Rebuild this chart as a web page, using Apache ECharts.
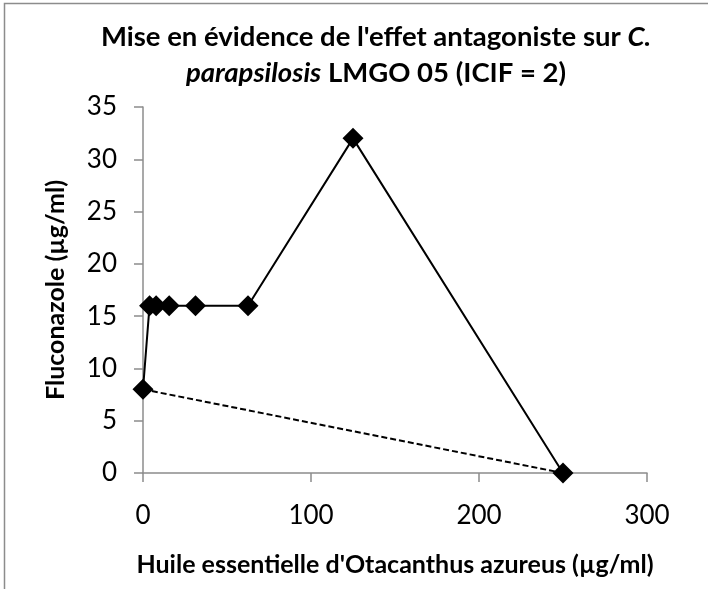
<!DOCTYPE html>
<html>
<head>
<meta charset="utf-8">
<script src="https://cdn.jsdelivr.net/npm/echarts@6/dist/echarts.min.js"></script>
<style>
  html, body { margin: 0; padding: 0; background: #fff; }
  #chart { width: 708px; height: 589px; }
</style>
</head>
<body>
<div id="chart"></div>
<script>
// Huile essentielle (µg/ml) vs fluconazole (µg/ml) combinations
const oilValues = [0, 3.9, 7.8, 15.6, 31.25, 62.5, 125, 250];
const fluconazoleValues = [8, 16, 16, 16, 16, 16, 32, 0];

// Additivity reference line between the two single-agent MICs
const refOil = [0, 250];
const refFluconazole = [8, 0];

const xTicks = [0, 100, 200, 300];
const yTicks = [0, 5, 10, 15, 20, 25, 30, 35];

const FONT = 'Lato, "Open Sans", sans-serif';

const chart = echarts.init(document.getElementById('chart'));
chart.setOption({
  animation: false,
  backgroundColor: '#ffffff',
  graphic: [{
    type: 'rect',
    shape: { x: 4.5, y: 3.5, width: 800, height: 700 },
    style: { fill: 'none', stroke: '#8c8c8c', lineWidth: 1.5 },
    z: -1
  }],
  title: {
    text: "{b|Mise en évidence de l'effet antagoniste sur }{i|C.}\n{i|parapsilosis}{b| LMGO 05 (ICIF = 2)}",
    left: 371,
    top: 14,
    textAlign: 'center',
    textStyle: {
      rich: {
        b: { fontFamily: FONT, fontWeight: 'bold', fontSize: 27.5, color: '#000', lineHeight: 36 },
        i: { fontFamily: FONT, fontWeight: 'bold', fontStyle: 'italic', fontSize: 27.5, color: '#000', lineHeight: 36 }
      }
    }
  },
  grid: { left: 143, top: 107, right: 61, bottom: 116 },
  xAxis: {
    type: 'value',
    min: xTicks[0],
    max: xTicks[xTicks.length - 1],
    interval: 100,
    name: "Huile essentielle d'Otacanthus azureus (µg/ml)",
    nameLocation: 'middle',
    nameGap: 79,
    nameMoveOverlap: false,
    nameTextStyle: { fontFamily: FONT, fontWeight: 'bold', fontSize: 25, color: '#000' },
    axisLine: { show: true, lineStyle: { color: '#8c8c8c', width: 1.5 } },
    axisTick: { show: true, inside: false, length: 9, lineStyle: { color: '#8c8c8c', width: 1.5 } },
    axisLabel: { fontFamily: FONT, fontSize: 26, color: '#000', margin: 30 },
    splitLine: { show: false }
  },
  yAxis: {
    type: 'value',
    min: yTicks[0],
    max: yTicks[yTicks.length - 1],
    interval: 5,
    name: 'Fluconazole (µg/ml)',
    nameLocation: 'middle',
    nameGap: 75,
    nameMoveOverlap: false,
    nameTextStyle: { fontFamily: FONT, fontWeight: 'bold', fontSize: 25, color: '#000' },
    axisLine: { show: true, lineStyle: { color: '#8c8c8c', width: 1.5 } },
    axisTick: { show: true, inside: false, length: 9, lineStyle: { color: '#8c8c8c', width: 1.5 } },
    axisLabel: { fontFamily: FONT, fontSize: 26, color: '#000', margin: 26 },
    splitLine: { show: false }
  },
  series: [
    {
      type: 'line',
      data: refOil.map((x, i) => [x, refFluconazole[i]]),
      symbol: 'none',
      lineStyle: { color: '#000', width: 2, type: [6, 3] },
      z: 2
    },
    {
      type: 'line',
      data: oilValues.map((x, i) => [x, fluconazoleValues[i]]),
      symbol: 'diamond',
      symbolSize: 21,
      showAllSymbol: true,
      itemStyle: { color: '#000' },
      lineStyle: { color: '#000', width: 2 },
      z: 3
    }
  ]
});
</script>
</body>
</html>
